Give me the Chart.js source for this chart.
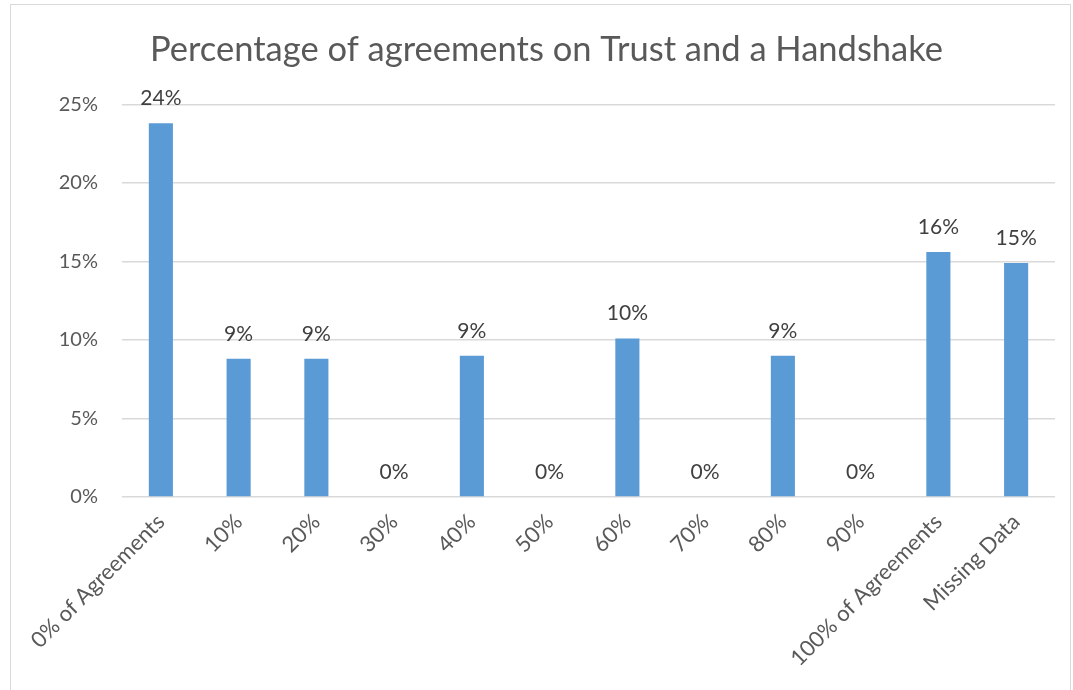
<!DOCTYPE html>
<html>
<head>
<meta charset="utf-8">
<script src="https://cdn.jsdelivr.net/npm/chart.js@4.4.1/dist/chart.umd.min.js"></script>
<style>
  html, body { margin: 0; padding: 0; background: #fff; }
  #wrap { position: relative; width: 1073px; height: 690px; overflow: hidden; }
  #frame { position: absolute; left: 10px; top: 4px; width: 1061px; height: 700px; border: 1px solid #d9d9d9; box-sizing: border-box; }
  canvas { position: absolute; left: 0; top: 0; }
</style>
</head>
<body>
<div id="wrap">
  <div id="frame"></div>
  <canvas id="chart" width="1073" height="690"></canvas>
</div>
<script>
const categories = ["0% of Agreements", "10%", "20%", "30%", "40%", "50%", "60%", "70%", "80%", "90%", "100% of Agreements", "Missing Data"];
const shares = [23.8, 8.8, 8.8, 0, 9.0, 0, 10.1, 0, 9.0, 0, 15.6, 14.9];
const yTicks = [0, 5, 10, 15, 20, 25];

const FONT = "Lato, 'Open Sans', sans-serif";

// value labels above each bar, rounded to whole percent
const barLabels = {
  id: "barLabels",
  afterDatasetsDraw(chart) {
    const ctx = chart.ctx;
    const meta = chart.getDatasetMeta(0);
    ctx.save();
    ctx.font = "21px " + FONT;
    ctx.fillStyle = "#404040";
    ctx.textAlign = "center";
    ctx.textBaseline = "alphabetic";
    meta.data.forEach((bar, i) => {
      ctx.fillText(Math.round(shares[i]) + "%", bar.x, bar.y - 18);
    });
    ctx.restore();
  }
};

new Chart(document.getElementById("chart"), {
  type: "bar",
  data: {
    labels: categories,
    datasets: [{
      data: shares,
      backgroundColor: "#5b9bd5",
      barPercentage: 1,
      categoryPercentage: 0.31,
    }]
  },
  options: {
    responsive: false,
    animation: false,
    layout: { padding: { left: 38, right: 18, top: 0, bottom: 0 } },
    plugins: {
      legend: { display: false },
      tooltip: { enabled: false },
      title: {
        display: true,
        text: "Percentage of agreements on Trust and a Handshake",
        color: "#595959",
        font: { family: FONT, size: 34.5, weight: "normal" },
        padding: { top: 29, bottom: 34 }
      }
    },
    scales: {
      y: {
        min: 0, max: 25,
        afterBuildTicks: s => { s.ticks = yTicks.map(v => ({ value: v })); },
        afterFit: s => { s.width = 84; },
        grid: { color: "#d9d9d9", lineWidth: 1.5, drawTicks: false },
        border: { display: false },
        ticks: { color: "#595959", padding: 24, font: { family: FONT, size: 20 }, callback: v => v + "%" }
      },
      x: {
        afterFit: s => { s.height = 193; },
        grid: { display: false },
        border: { display: false },
        ticks: { color: "#595959", padding: 4, minRotation: 45, maxRotation: 45, autoSkip: false, font: { family: FONT, size: 22 } }
      }
    }
  },
  plugins: [barLabels]
});
</script>
</body>
</html>
